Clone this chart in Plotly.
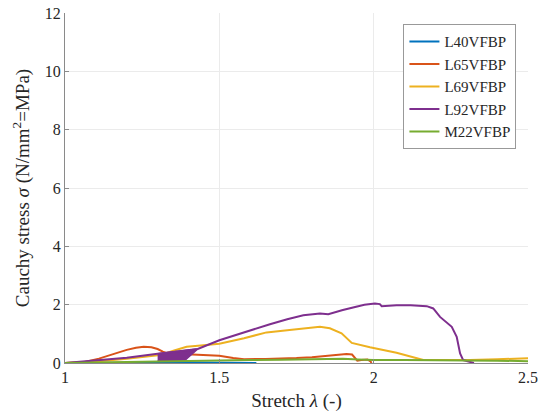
import plotly.graph_objects as go

# ---- data ----
l40_x = [1.0, 1.1, 1.2, 1.3, 1.4, 1.5, 1.6, 1.62]
l40_y = [0.0, 0.01, 0.02, 0.03, 0.02, 0.01, 0.0, 0.0]

l65_x = [1.0, 1.06, 1.11, 1.16, 1.2, 1.23, 1.255, 1.28, 1.3, 1.317, 1.33, 1.36, 1.42, 1.47, 1.5,
         1.545, 1.58, 1.65, 1.7, 1.75, 1.8, 1.85, 1.88, 1.912, 1.93, 1.94, 1.947, 1.96, 1.98, 1.99, 1.993]
l65_y = [0.0, 0.03, 0.15, 0.32, 0.45, 0.52, 0.56, 0.54, 0.48, 0.39, 0.34, 0.32, 0.3, 0.28, 0.25,
         0.17, 0.13, 0.14, 0.15, 0.17, 0.2, 0.25, 0.29, 0.31, 0.29, 0.15, 0.08, 0.1, 0.12, 0.05, 0.0]

l69_x = [1.0, 1.1, 1.2, 1.308, 1.351, 1.394, 1.44, 1.5, 1.58, 1.653, 1.72, 1.772, 1.826, 1.858,
         1.896, 1.929, 1.988, 2.074, 2.12, 2.161, 2.25, 2.312, 2.4, 2.5]
l69_y = [0.0, 0.05, 0.15, 0.27, 0.42, 0.56, 0.6, 0.66, 0.85, 1.05, 1.12, 1.19, 1.24, 1.19,
         1.02, 0.69, 0.54, 0.35, 0.22, 0.1, 0.1, 0.1, 0.13, 0.16]

l92_x = [1.0, 1.1, 1.2, 1.3, 1.43,
         1.5, 1.6, 1.664, 1.72, 1.772, 1.826, 1.853, 1.9, 1.934, 1.97, 2.004, 2.02, 2.026,
         2.074, 2.12, 2.172, 2.193, 2.215, 2.253, 2.269, 2.28, 2.29, 2.325]
l92_y = [0.0, 0.08, 0.18, 0.32, 0.48,
         0.78, 1.12, 1.33, 1.5, 1.64, 1.70, 1.675, 1.82, 1.92, 2.0, 2.04, 2.02, 1.95,
         1.98, 1.98, 1.95, 1.87, 1.58, 1.24, 0.9, 0.33, 0.1, 0.0]

# dense loading/unloading cycles of L92VFBP (outline of the swept region)
l92_loop_x = [1.30, 1.43, 1.386, 1.30]
l92_loop_y = [0.32, 0.48, 0.07, 0.07]

m22_x = [1.0, 1.1, 1.2, 1.3, 1.4, 1.5, 1.6, 1.7, 1.8, 1.85, 1.9, 1.95, 2.0, 2.1, 2.2, 2.3, 2.4, 2.5]
m22_y = [0.0, 0.02, 0.04, 0.06, 0.08, 0.09, 0.1, 0.11, 0.13, 0.15, 0.15, 0.12, 0.1, 0.1, 0.1, 0.1, 0.08, 0.06]

x_ticks = [1, 1.5, 2, 2.5]
x_ticktext = ["1", "1.5", "2", "2.5"]
y_ticks = [0, 2, 4, 6, 8, 10, 12]

names = ["L40VFBP", "L65VFBP", "L69VFBP", "L92VFBP", "M22VFBP"]
colors = ["#0072BD", "#D95319", "#EDB120", "#7E2F8E", "#77AC30"]
series = [(l40_x, l40_y), (l65_x, l65_y), (l69_x, l69_y), (l92_x, l92_y), (m22_x, m22_y)]

FF = "Liberation Serif"
text_color = "#262626"

fig = go.Figure()
for name, color, (xs, ys) in zip(names, colors, series):
    if name == "L92VFBP":
        fig.add_trace(go.Scatter(x=l92_loop_x, y=l92_loop_y, mode="lines", fill="toself",
                                 fillcolor=color, line=dict(color=color, width=1.5),
                                 showlegend=False, hoverinfo="skip"))
    fig.add_trace(go.Scatter(x=xs, y=ys, mode="lines", name=name,
                             line=dict(color=color, width=2)))

fig.update_layout(
    width=549, height=419,
    margin=dict(l=65, r=21, t=13, b=56),
    paper_bgcolor="white", plot_bgcolor="white",
    font=dict(family=FF, color=text_color, size=16),
    showlegend=True,
    legend=dict(x=0.975, y=0.968, xanchor="right", yanchor="top",
                bgcolor="white", bordercolor="#999999", borderwidth=1,
                font=dict(family=FF, size=15, color=text_color),
                tracegroupgap=0),
    xaxis=dict(range=[1, 2.5], tickvals=x_ticks, ticktext=x_ticktext,
               showgrid=True, gridcolor="#ebebeb", gridwidth=1,
               showline=True, linecolor="#8a8a8a", linewidth=1, mirror=False,
               ticks="inside", ticklen=4, tickcolor="#8a8a8a",
               zeroline=False, automargin=False,
               tickfont=dict(family=FF, size=16, color=text_color),
               title=dict(text="Stretch <i>λ</i> (-)", font=dict(family=FF, size=19, color=text_color), standoff=8)),
    yaxis=dict(range=[0, 12], tickvals=y_ticks,
               showgrid=True, gridcolor="#ebebeb", gridwidth=1,
               showline=True, linecolor="#8a8a8a", linewidth=1, mirror=False,
               ticks="inside", ticklen=4, tickcolor="#8a8a8a",
               zeroline=False, automargin=False,
               tickfont=dict(family=FF, size=16, color=text_color),
               title=dict(text="Cauchy stress <i>σ</i> (N/mm<sup>2</sup>=MPa)",
                          font=dict(family=FF, size=19, color=text_color), standoff=10)),
)

fig.write_html("out.html")
